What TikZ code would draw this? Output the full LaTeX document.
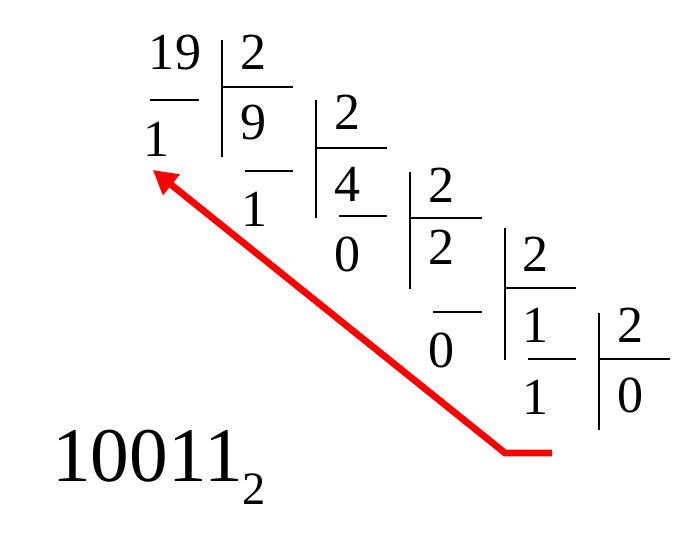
\documentclass[tikz,border=0pt]{standalone}
\usepackage{fontspec}
\setmainfont{Liberation Serif}
\usetikzlibrary{arrows.meta}

\begin{document}
\begin{tikzpicture}[x=0.025cm, y=-0.025cm,
	cifra/.style={inner sep=0pt, anchor=base, font=\fontsize{37}{40}\selectfont},
	raya/.style={line width=1.2pt},
	flecha/.style={draw=red, line width=4.8pt, -{Triangle[length=17pt,width=18pt]}}]
	\useasboundingbox (0,0) rectangle (699,544);

	% 19 : 2
	\draw (175,70) node[cifra] (dividendo) {19};
	\draw (157,157) node[cifra] (resto1) {1};
	\draw (254,70) node[cifra] (divisor1) {2};
	\draw (254,140) node[cifra] (cociente1) {9};
	\draw[raya] (150,100) -- (199,100);
	\draw[raya] (222,40) -- (222,157);
	\draw[raya] (222,87) -- (293,87);

	% 9 : 2
	\draw (255,227) node[cifra] (resto2) {1};
	\draw (348,130) node[cifra] (divisor2) {2};
	\draw (348,202) node[cifra] (cociente2) {4};
	\draw[raya] (245,171) -- (293,171);
	\draw[raya] (316,100) -- (316,218);
	\draw[raya] (316,148) -- (387,148);

	% 4 : 2
	\draw (348,272) node[cifra] (resto3) {0};
	\draw (442,203) node[cifra] (divisor3) {2};
	\draw (442,265) node[cifra] (cociente3) {2};
	\draw[raya] (339,216) -- (387,216);
	\draw[raya] (410,172) -- (410,289);
	\draw[raya] (410,218) -- (482,218);

	% 2 : 2
	\draw (442,368) node[cifra] (resto4) {0};
	\draw (536,272) node[cifra] (divisor4) {2};
	\draw (536,343) node[cifra] (cociente4) {1};
	\draw[raya] (433,312) -- (482,312);
	\draw[raya] (505,228) -- (505,360);
	\draw[raya] (505,288) -- (576,288);

	% 1 : 2
	\draw (536,415) node[cifra] (resto5) {1};
	\draw (631,343) node[cifra] (divisor5) {2};
	\draw (631,413) node[cifra] (cociente5) {0};
	\draw[raya] (528,359) -- (576,359);
	\draw[raya] (599,313) -- (599,430);
	\draw[raya] (599,359) -- (670,359);

	% lectura de los restos
	\coordinate (inicio) at (552,453);
	\coordinate (codo) at (505,453);
	\draw[flecha] (inicio) -- (codo) -- ([xshift=-3pt,yshift=-9pt]resto1.south);

	\draw (52,482) node[anchor=base west, inner sep=0pt, font=\fontsize{55}{60}\selectfont] (resultado)
	{
		10011\raisebox{-16pt}{\fontsize{33}{36}\selectfont 2}
	};
\end{tikzpicture}
\end{document}
